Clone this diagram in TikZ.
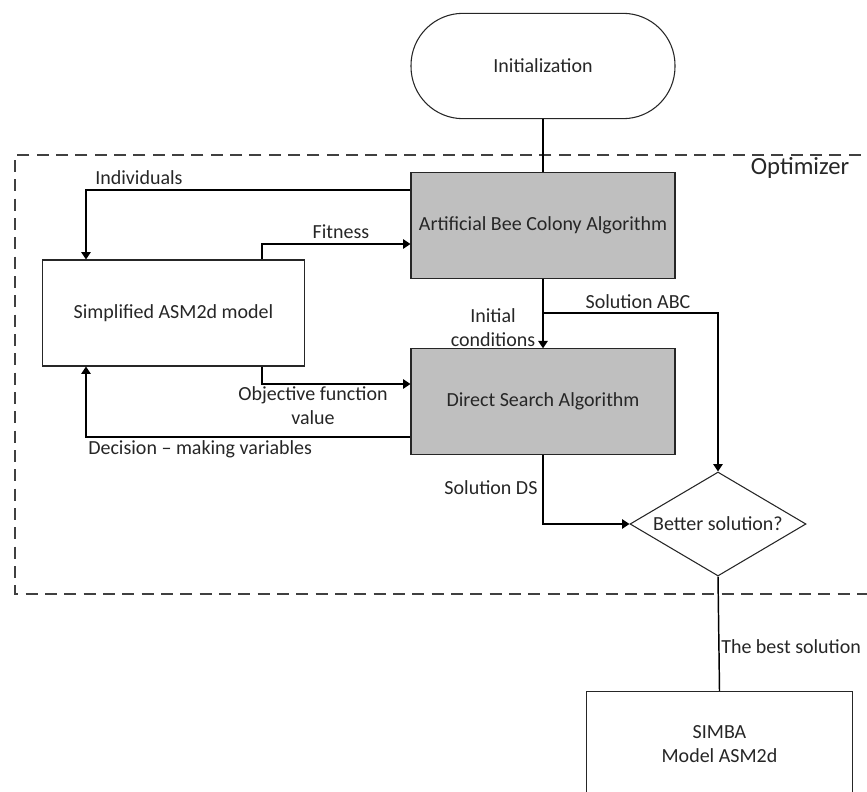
\documentclass[tikz,border=0pt]{standalone}
\usepackage{fontspec}
\setmainfont{Carlito}
\usepackage{tikz}
\usetikzlibrary{shapes.geometric,arrows.meta,calc}
\definecolor{BoxGray}{HTML}{BFBFBF}
\definecolor{InkGray}{HTML}{262626}
\definecolor{DashGray}{HTML}{404040}

\begin{document}
\begin{tikzpicture}[x=0.75pt,y=-0.75pt]
		\tikzstyle{every node}=[text=InkGray,font=\fontsize{15}{18}\selectfont]
		\tikzstyle{ConnSty}=[line width=1.1pt,color=black]
		\tikzstyle{ArrSty}=[ConnSty,-{Triangle[length=5.5pt,width=7pt]}]
		\tikzstyle{OptSty}=[line width=1.5pt,color=DashGray,dash pattern=on 9pt off 5.5pt]
		\tikzstyle{plainbox}=[draw=InkGray,line width=0.8pt,minimum width=198pt,
				      minimum height=79pt,inner sep=0pt,align=center]
		\tikzstyle{graybox}=[plainbox,fill=BoxGray]
		\tikzstyle{termbox}=[plainbox,rounded corners=39pt]
		\tikzstyle{decbox}=[diamond,draw=InkGray,line width=0.8pt,minimum width=132pt,
				      minimum height=78pt,inner sep=0pt,aspect=1.7]
		\tikzstyle{lbl}=[align=center,inner sep=0pt]

\clip (0,0) rectangle (867,792);

% optimizer frame
\draw[OptSty] (880,155) -- (15,155) -- (15,594) -- (880,594);
\node[font=\fontsize{18.5}{22}\selectfont] (optimizer) at (800,168) {Optimizer};

\node[termbox] (init) at (543,66) {Initialization};
\node[graybox] (abc) at (543,225.5) {Artificial Bee Colony Algorithm};
\node[graybox] (ds) at (543,401.5) {Direct Search Algorithm};
\node[plainbox,minimum width=197pt,minimum height=79.5pt] (model) at (173.5,313) {Simplified ASM2d model};
\node[decbox] (better) at (718,524) {Better solution?};
\node[plainbox,minimum width=199pt] (simba) at (719.5,744) {SIMBA\\Model ASM2d};

\coordinate (indiv) at (86,190);
\coordinate (fit) at (262,244);
\coordinate (obj) at (262,384);
\coordinate (dec) at (86,437);
\coordinate (solabc) at (543,313);

\draw[ConnSty] (init) -- (abc);
\draw[ArrSty] (abc.west |- indiv) -- (indiv) -- (model.north -| indiv);
\draw[ArrSty] (model.north -| fit) -- (fit) -- (abc.west |- fit);
\draw[ArrSty] (model.south -| obj) -- (obj) -- (ds.west |- obj);
\draw[ArrSty] (ds.west |- dec) -- (dec) -- (model.south -| dec);
\draw[ArrSty] (abc) -- (ds);
\draw[ArrSty] (solabc) -| (better.north);
\draw[ArrSty] (ds.south) |- (better.west);
\draw[ConnSty] (better.south) -- (simba.north);

\node[lbl,anchor=west] (l_indiv) at (95,178) {Individuals};
\node[lbl] (l_fit) at (341,232) {Fitness};
\node[lbl] (l_obj) at (313,406) {Objective function\\value};
\node[lbl,anchor=west] (l_dec) at (88,449) {Decision -- making variables};
\node[lbl] (l_init) at (493,328) {Initial\\conditions};
\node[lbl] (l_abc) at (638,302) {Solution ABC};
\node[lbl] (l_ds) at (491,488) {Solution DS};
\node[lbl,anchor=west] (l_best) at (721,647) {The best solution};

\end{tikzpicture}
\end{document}
